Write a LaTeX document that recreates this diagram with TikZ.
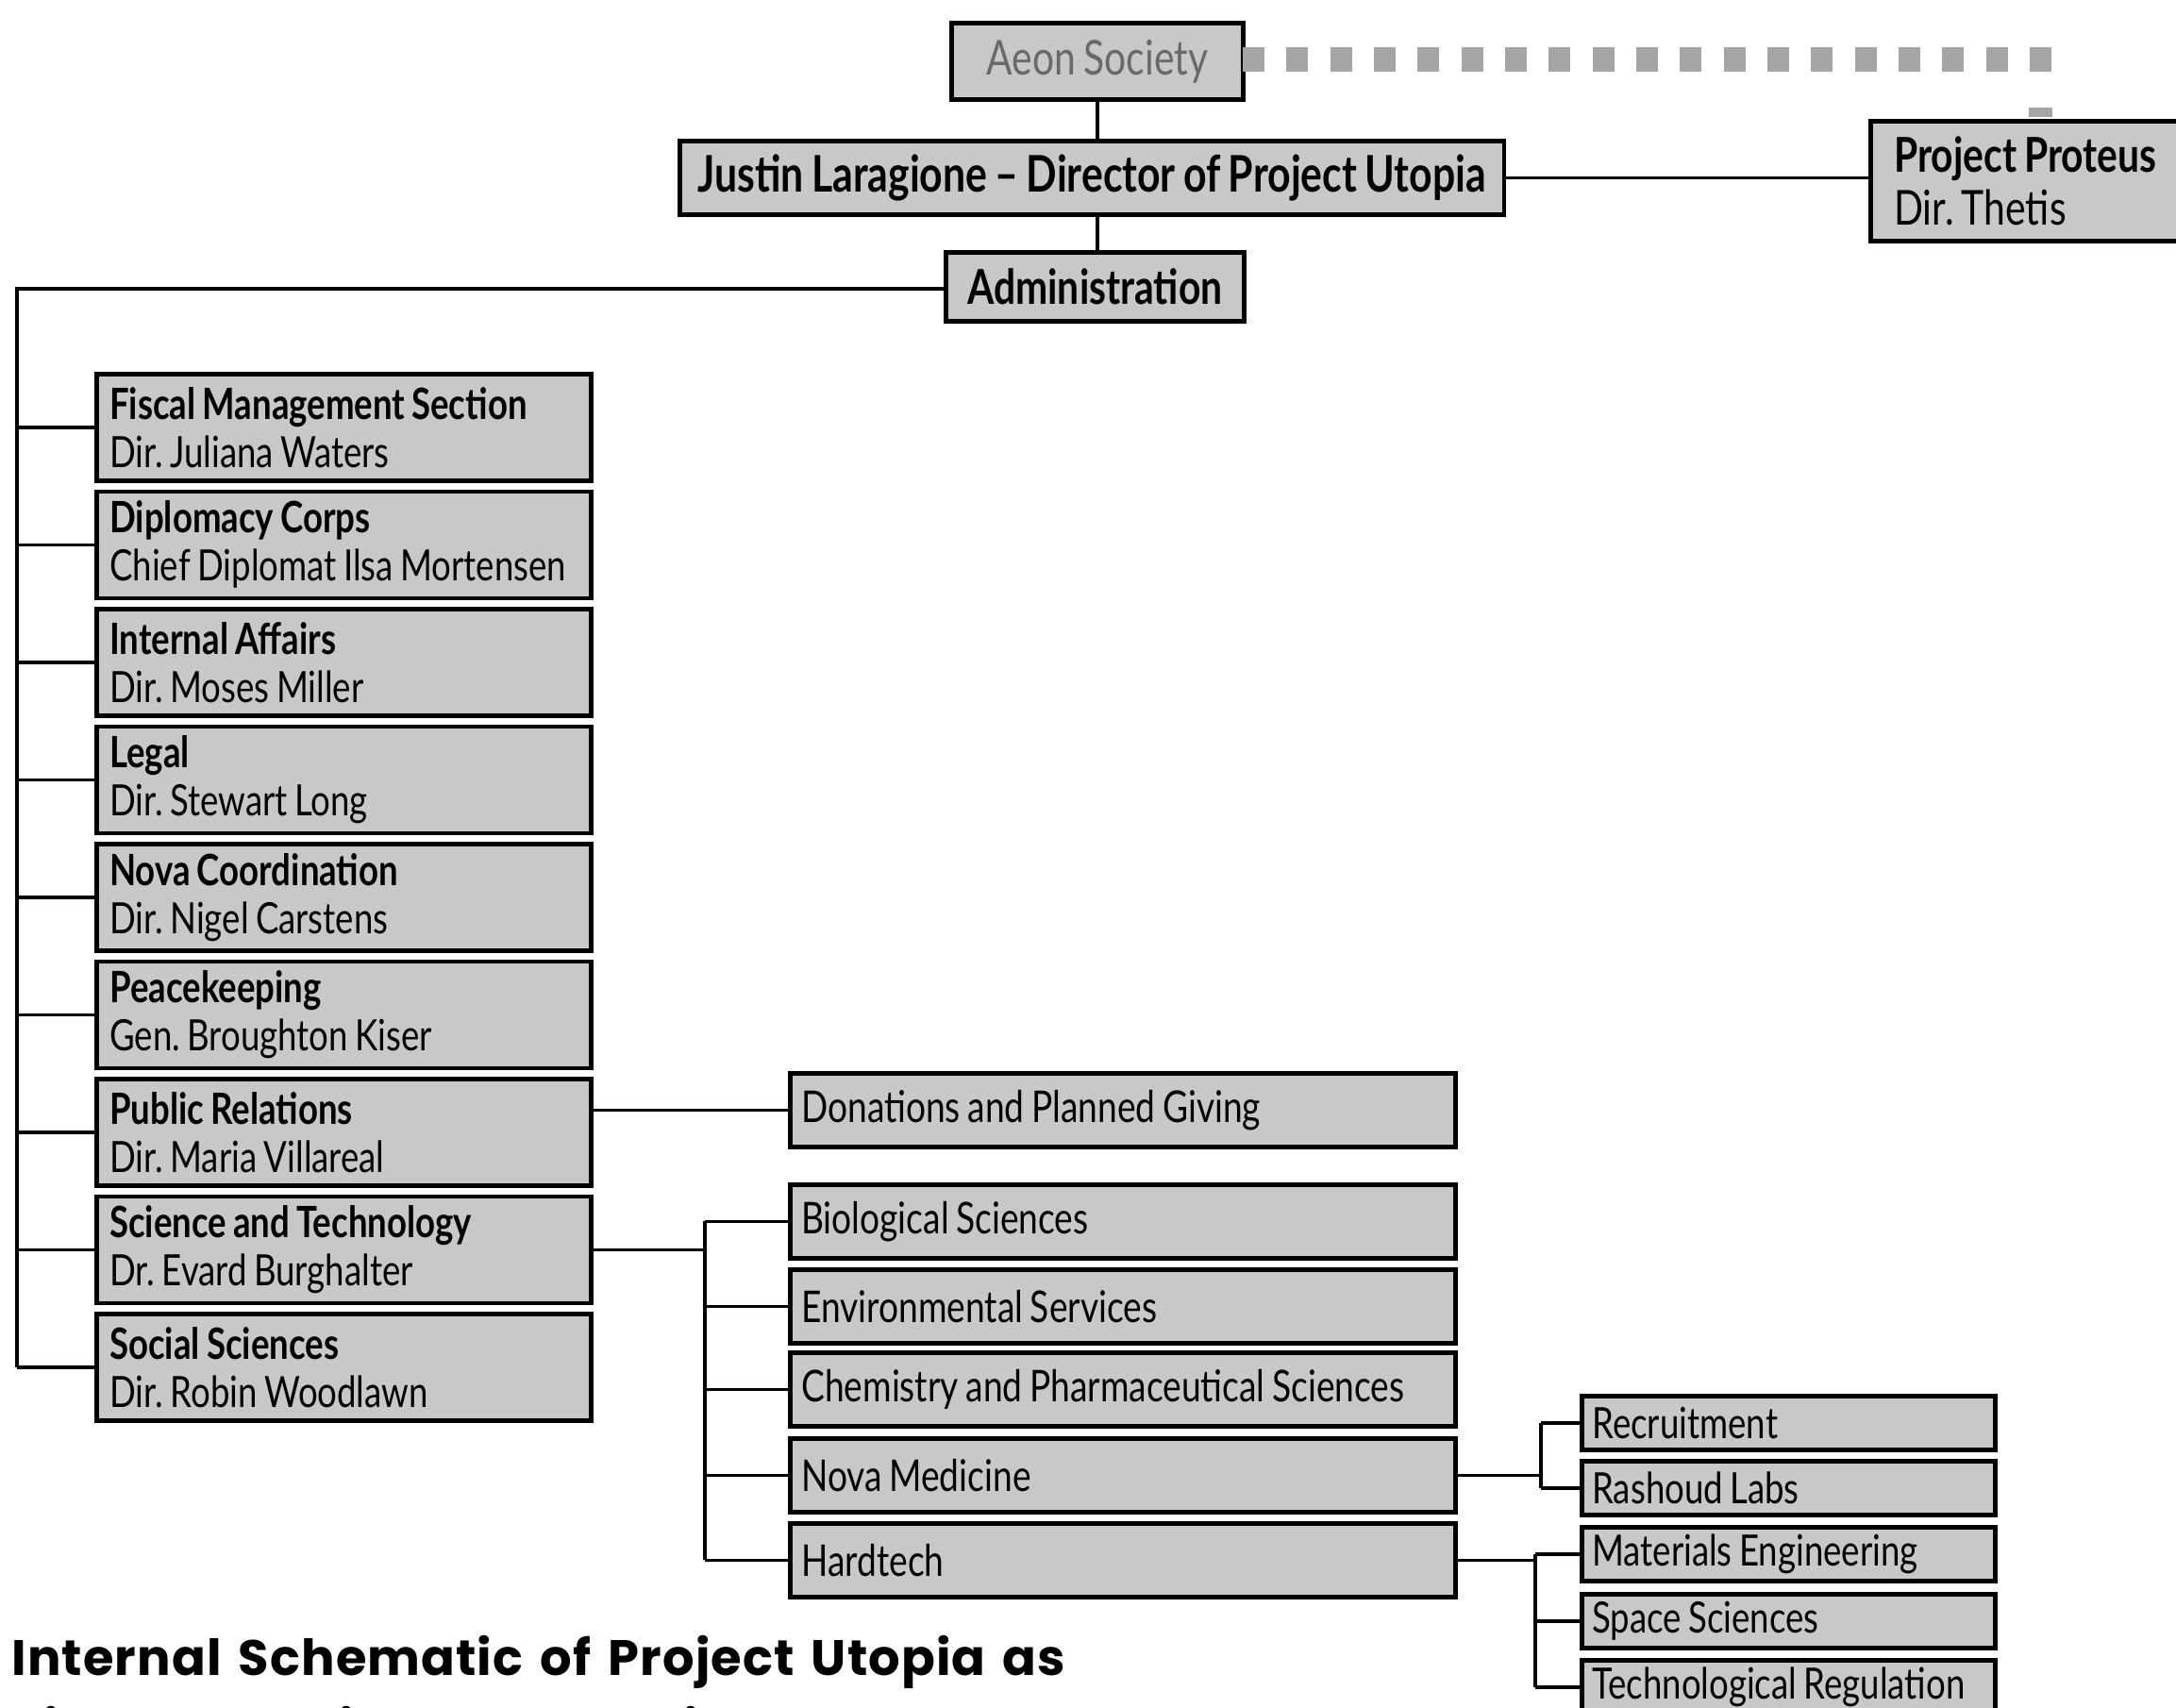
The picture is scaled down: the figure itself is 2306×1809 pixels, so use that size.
\documentclass[tikz,border=0pt]{standalone}
\usepackage{fontspec}
\newfontfamily\boxfont[FakeStretch=0.8,WordSpace=0.8,Ligatures=TeX]{Lato}
\newfontfamily\titlefont[LetterSpace=2,WordSpace=1.5]{Poppins}
\definecolor{boxgray}{RGB}{200,200,200}
\definecolor{aeongray}{RGB}{105,105,105}
\definecolor{dashgray}{RGB}{165,165,165}
\frenchspacing
\begin{document}
\begin{tikzpicture}[x=0.01cm,y=-0.01cm,
  box/.style={draw=black,line width=1.3pt,fill=boxgray,anchor=north west,inner ysep=0pt,align=flush left,font=\boxfont\fontsize{13}{14.5}\selectfont},
  bigbox/.style={box,align=center,inner xsep=0pt,font=\boxfont\fontsize{14.5}{16}\selectfont},
  lbox/.style={box,inner xsep=0.14cm,text width=4.96cm,minimum height=1.13cm},
  rbox/.style={box,inner xsep=0.12cm,text width=6.81cm,minimum height=0.78cm,font=\boxfont\fontsize{13.2}{14.5}\selectfont},
  sbox/.style={box,inner xsep=0.11cm,text width=4.16cm,minimum height=0.57cm},
  conn/.style={line width=1pt,draw=black},
  aeondash/.style={line width=0.25cm,draw=dashgray,dash pattern=on 0.23cm off 0.233cm},
  titletext/.style={anchor=base west,inner sep=0pt,font=\titlefont\bfseries\fontsize{15}{18}\selectfont}]
\useasboundingbox (0,0) rectangle (2306,1809);
\clip (0,0) rectangle (2306,1809);
\fill[white] (0,0) rectangle (2306,1809);

% top boxes
\node[bigbox,minimum width=3.09cm,minimum height=0.81cm,text=aeongray] (aeon) at (1006,22) {Aeon Society};
\node[bigbox,minimum width=8.73cm,minimum height=0.78cm,font=\boxfont\fontsize{15.2}{16}\selectfont] (justin) at (718,147) {\bfseries Justin Laragione – Director of Project Utopia};
\node[bigbox,minimum width=3.16cm,minimum height=0.73cm] (admin) at (1000,265) {\bfseries Administration};
\node[box,inner xsep=0.25cm,text width=3.2cm,minimum height=1.27cm,font=\boxfont\fontsize{14.5}{16}\selectfont] (proteus) at (1980,126) {\textbf{Project Proteus}\\Dir. Thetis};

% dotted link Aeon -> Proteus
\draw[aeondash] (1317,63) -- (2176,63);
\fill[dashgray] (2150,114) rectangle (2175,124);

% left column
\node[lbox] (fiscal) at (100,394) {\textbf{Fiscal Management Section}\\Dir. Juliana Waters};
\node[lbox] (diplo) at (100,518.5) {\textbf{Diplomacy Corps}\\Chief Diplomat Ilsa Mortensen};
\node[lbox] (internal) at (100,643) {\textbf{Internal Affairs}\\Dir. Moses Miller};
\node[lbox] (legal) at (100,767.5) {\textbf{Legal}\\Dir. Stewart Long};
\node[lbox] (novacoord) at (100,892) {\textbf{Nova Coordination}\\Dir. Nigel Carstens};
\node[lbox] (peace) at (100,1016.5) {\textbf{Peacekeeping}\\Gen. Broughton Kiser};
\node[lbox] (pr) at (100,1141) {\textbf{Public Relations}\\Dir. Maria Villareal};
\node[lbox] (sci) at (100,1265.5) {\textbf{Science and Technology}\\Dr. Evard Burghalter};
\node[lbox] (social) at (100,1390) {\textbf{Social Sciences}\\Dir. Robin Woodlawn};

% middle column
\node[rbox] (don) at (835,1135) {Donations and Planned Giving};
\node[rbox] (bio) at (835,1253) {Biological Sciences};
\node[rbox] (env) at (835,1343) {Environmental Services};
\node[rbox] (chem) at (835,1431) {Chemistry and Pharmaceutical Sciences};
\node[rbox] (novamed) at (835,1522) {Nova Medicine};
\node[rbox] (hard) at (835,1612) {Hardtech};

% right column
\node[sbox] (recr) at (1674,1477) {Recruitment};
\node[sbox] (rash) at (1674,1546) {Rashoud Labs};
\node[sbox] (mat) at (1674,1616) {Materials Engineering};
\node[sbox] (space) at (1674,1687) {Space Sciences};
\node[sbox] (techreg) at (1674,1757) {Technological Regulation};

% rails
\coordinate (lrail) at (18,306);
\coordinate (srail) at (747,0);
\coordinate (nrail) at (1633,0);
\coordinate (hrail) at (1627,0);

% top connectors
\draw[conn] (aeon.south) -- (aeon.south |- justin.north);
\draw[conn] (aeon.south |- justin.south) -- (aeon.south |- admin.north);
\draw[conn] (justin.east) -- (justin.east -| proteus.west);

% admin to left column
\draw[conn] (admin.west |- lrail) -- (lrail) -- (lrail |- social.west);
\foreach \n in {fiscal,diplo,internal,legal,novacoord,peace,pr,sci,social}
  \draw[conn] (lrail |- \n.west) -- (\n.west);

% public relations
\draw[conn] (pr.east |- don.west) -- (don.west);

% science and technology
\draw[conn] (sci.east) -- (sci.east -| srail);
\draw[conn] (srail |- bio.west) -- (srail |- hard.west);
\foreach \n in {bio,env,chem,novamed,hard}
  \draw[conn] (srail |- \n.west) -- (\n.west);

% nova medicine
\draw[conn] (novamed.east) -- (novamed.east -| nrail);
\draw[conn] (nrail |- recr.west) -- (nrail |- rash.west);
\foreach \n in {recr,rash}
  \draw[conn] (nrail |- \n.west) -- (\n.west);

% hardtech
\draw[conn] (hard.east) -- (hard.east -| hrail);
\draw[conn] (hrail |- mat.west) -- (hrail |- techreg.west);
\foreach \n in {mat,space,techreg}
  \draw[conn] (hrail |- \n.west) -- (\n.west);

% caption
\node[titletext] (title1) at (12,1775) {Internal Schematic of Project Utopia as};
\node[titletext] (title2) at (12,1850) {viewed by Director Laragione};
\end{tikzpicture}
\end{document}
